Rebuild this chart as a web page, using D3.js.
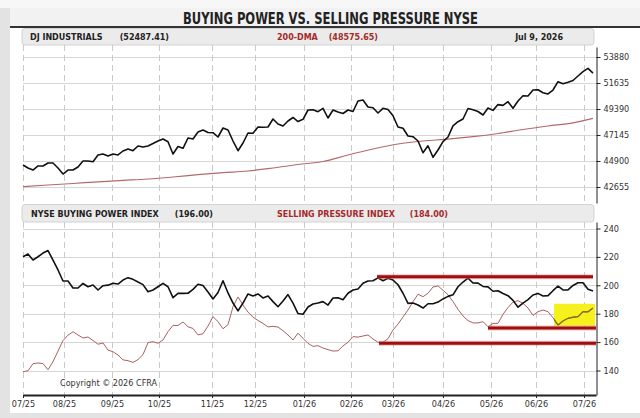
<!DOCTYPE html>
<html><head><meta charset="utf-8">
<script src="https://cdn.jsdelivr.net/npm/d3@7"></script>
<style>
html,body{margin:0;padding:0;background:#f4f4f4;}
svg{display:block;}
</style></head>
<body><svg id="c" width="640" height="418"></svg>
<script>
// ---------- DATA ----------
const chartTitle = "BUYING POWER VS. SELLING PRESSURE NYSE";
const monthLabels = ["07/25","08/25","09/25","10/25","11/25","12/25","01/26","02/26","03/26","04/26","05/26","06/26","07/26"];
// month starts, in sample (session) index units
const monthPos = [0, 8.2, 17.8, 27.2, 37.8, 46.4, 56.2, 65.6, 74, 84, 93.6, 102.6, 112.2];
const djTicks = [42655, 44900, 47145, 49390, 51635, 53880];
const indexTicks = [140, 160, 180, 200, 220, 240];

const djValues = [44554,44295,44122,44468,44468,44727,44727,44295,43777,44122,
 44122,44381,44900,44900,44839,45418,45504,45331,45504,45418,
 45763,45936,45789,46195,46108,46195,46411,46627,46799,46566,
 45504,46152,45996,46886,46799,47404,47576,47361,47343,46972,
 47749,47576,46627,45789,46454,47317,47291,47835,47810,47835,
 48526,48095,47922,48354,48656,48310,48500,49303,49330,49157,
 49450,48613,49303,49131,49001,49303,49174,50081,50167,49562,
 49502,49044,49450,49347,48811,47835,47723,47058,46998,46627,
 45616,46212,45219,45849,46566,46972,47939,48293,48526,49433,
 49321,49174,48872,49476,49269,49770,49701,50020,49450,50081,
 50538,50512,51030,51048,50797,50685,51030,51747,51574,51695,
 51851,52239,52619,52896,52487.41];
// 200-day moving average, one value every 5 samples (last one = final sample)
const dmaValues = [42680,42827,42957,43104,43224,43345,43518,43717,43889,44036,44295,44597,
 44856,45418,45936,46367,46627,46782,46998,47274,47620,47922,48198,48575.65];

const buyingPower = [220.1,222.0,217.8,220.1,222.7,224.5,217.8,210.8,203.0,203.0,
 198.1,198.1,201.3,199.0,200.2,196.7,199.7,200.1,201.4,200.9,
 203.7,205.4,204.2,202.3,200.5,195.5,196.7,199.0,201.4,199.0,
 191.3,194.3,194.3,194.4,197.1,200.7,199.8,195.3,190.4,194.9,
 203.2,194.6,187.5,182.0,187.5,193.9,192.5,193.9,191.1,192.5,
 188.5,184.9,188.9,193.5,187.5,180.1,179.6,184.7,186.8,187.5,
 188.5,186.1,191.1,191.2,189.9,194.4,196.7,197.4,201.4,203.0,
 203.2,205.2,203.2,204.9,203.7,200.4,194.4,187.3,187.5,186.1,
 184.0,187.0,187.0,188.2,190.4,192.2,193.3,199.0,202.3,205.1,
 201.6,201.5,199.2,198.9,195.8,196.2,194.2,192.7,189.4,184.6,
 187.5,189.9,193.2,194.3,192.5,192.7,196.2,199.5,196.7,196.8,
 199.9,201.8,201.8,197.2,196.0];

const sellingPressure = [139.2,139.8,144.8,145.3,144.9,140.5,146.2,153.7,161.1,164.9,
 167.3,165.0,162.9,163.6,161.1,158.5,159.4,154.4,153.2,150.9,
 147.5,146.9,145.7,147.7,151.2,159.6,160.3,159.2,161.5,167.4,
 171.8,171.7,174.2,170.8,169.6,165.1,165.9,171.3,177.9,174.4,
 169.4,172.3,184.9,191.8,186.1,181.1,177.6,175.2,173.2,170.7,
 171.1,170.6,168.0,165.0,161.5,166.3,162.7,159.1,157.0,157.5,
 155.8,154.7,153.7,153.9,157.3,159.9,163.9,163.5,164.3,165.0,
 162.2,159.9,159.9,162.4,168.5,172.7,177.7,182.6,188.5,193.7,
 192.0,194.4,198.8,199.6,196.5,193.4,188.5,183.1,178.4,175.1,
 173.5,173.5,174.4,170.8,173.2,173.2,179.6,184.3,188.2,189.2,
 187.3,184.0,178.8,181.4,182.6,181.4,177.1,172.0,174.9,176.8,
 177.5,177.9,181.4,181.3,184.0];

// support / resistance levels (value, start and end in sample index)
const levelValues = [206, 170, 159.2];
const levelStarts = [70.8, 93, 71.2];
const levelEnds = [114, 114.6, 114.6];
// highlighted zone
const zoneRange = [106.2, 114.4];
const zoneValues = [171.5, 187];

// ---------- DRAW ----------
const W = 640, H = 418;
const svg = d3.select('#c');
const condensed = '"DejaVu Sans Condensed","DejaVu Sans",sans-serif';
const boldFont = '"DejaVu Sans","Verdana",sans-serif';

svg.append('rect').attr('width', W).attr('height', H).attr('fill', '#f7f7f7');
svg.append('rect').attr('x', 0).attr('y', 8).attr('width', 10).attr('height', H - 8).attr('fill', '#e3e3e3');
svg.append('rect').attr('x', 10).attr('y', 8).attr('width', W - 10).attr('height', 19).attr('fill', '#f2f2f2');
svg.append('rect').attr('x', 10).attr('y', 27).attr('width', W - 10).attr('height', 386).attr('fill', '#ffffff');
svg.append('rect').attr('x', 0).attr('y', 413).attr('width', W).attr('height', 5).attr('fill', '#e3e3e3');
svg.append('line').attr('x1', 10).attr('x2', W).attr('y1', 27).attr('y2', 27).attr('stroke', '#333').attr('stroke-width', 2);

svg.append('text').attr('x', 183).attr('y', 24)
  .attr('font-family', '"Liberation Sans Narrow","DejaVu Sans Condensed",sans-serif')
  .attr('font-weight', 'bold').attr('font-size', 15).attr('fill', '#222')
  .attr('textLength', 295).attr('lengthAdjust', 'spacingAndGlyphs').text(chartTitle);

const x = d3.scaleLinear().domain([0, 114.6]).range([23, 596]);
const yTop = d3.scaleLinear().domain([41273, 54743]).range([203, 47]);
const yBot = d3.scaleLinear().domain([122.75, 244.58]).range([395, 222]);

// gridlines
function grid(yScale, ticks, y0, y1) {
  const g = svg.append('g');
  g.selectAll('line.h').data(ticks).enter().append('line')
    .attr('x1', x(0)).attr('x2', x(114.6))
    .attr('y1', d => Math.round(yScale(d)) + 0.5).attr('y2', d => Math.round(yScale(d)) + 0.5)
    .attr('stroke', '#d6d6d6').attr('stroke-width', 1);
  g.selectAll('line.v').data(monthPos).enter().append('line')
    .attr('x1', d => Math.round(x(d)) + 0.5).attr('x2', d => Math.round(x(d)) + 0.5)
    .attr('y1', y0).attr('y2', y1)
    .attr('stroke', '#c9c9c9').attr('stroke-width', 1).attr('stroke-dasharray', '6,4');
}
grid(yTop, djTicks, 45, 203);
grid(yBot, indexTicks, 222, 395);

// header boxes
function header(y, h) {
  svg.append('rect').attr('x', 22).attr('y', y).attr('width', 572).attr('height', h).attr('rx', 3)
    .attr('fill', '#ebebeb').attr('stroke', '#d3d3d3');
}
header(28.5, 16.5);
header(204.5, 17.5);
function htext(xp, y, txt, col, anchor) {
  svg.append('text').attr('x', xp).attr('y', y).attr('text-anchor', anchor || 'start')
    .attr('font-family', boldFont).attr('font-weight', 'bold').attr('font-size', 8)
    .attr('fill', col).text(txt);
}
htext(30, 40, 'DJ INDUSTRIALS', '#222');
htext(169, 40, '(' + d3.format('.2f')(djValues[djValues.length - 1]) + ')', '#222', 'end');
htext(277, 40, '200-DMA', '#a52a2a');
htext(378, 40, '(' + d3.format('.2f')(dmaValues[dmaValues.length - 1]) + ')', '#a52a2a', 'end');
htext(563, 40, 'Jul 9, 2026', '#222', 'end');
htext(31, 216.5, 'NYSE BUYING POWER INDEX', '#222');
htext(213, 216.5, '(' + d3.format('.2f')(buyingPower[buyingPower.length - 1]) + ')', '#222', 'end');
htext(277, 216.5, 'SELLING PRESSURE INDEX', '#a52a2a');
htext(448, 216.5, '(' + d3.format('.2f')(sellingPressure[sellingPressure.length - 1]) + ')', '#a52a2a', 'end');

// axes
function styleAxis(g) {
  g.selectAll('text').attr('font-family', condensed).attr('font-size', 9).attr('fill', '#333');
  g.selectAll('line').attr('stroke', '#222');
  g.select('.domain').attr('stroke', '#222');
}
const axTop = svg.append('g').attr('transform', 'translate(596.5,0)')
  .call(d3.axisRight(yTop).tickValues(djTicks).tickFormat(d3.format('d')).tickSize(4).tickSizeOuter(0).tickPadding(3));
styleAxis(axTop);
const axBot = svg.append('g').attr('transform', 'translate(596.5,0)')
  .call(d3.axisRight(yBot).tickValues(indexTicks).tickFormat(d3.format('d')).tickSize(4).tickSizeOuter(0).tickPadding(3));
styleAxis(axBot);
const axX = svg.append('g').attr('transform', 'translate(0,395)')
  .call(d3.axisBottom(x).tickValues(monthPos).tickFormat((d, i) => monthLabels[i]).tickSize(3).tickSizeOuter(0).tickPadding(3));
styleAxis(axX);
axX.select('.domain').attr('stroke-width', 2);

// top lines
const lineTop = d3.line().x((d, i) => x(i)).y(d => yTop(d));
const dmaPts = dmaValues.map((v, k) => [Math.min(k * 5, djValues.length - 1), v]);
svg.append('path').datum(dmaPts)
  .attr('d', d3.line().x(d => x(d[0])).y(d => yTop(d[1])).curve(d3.curveMonotoneX))
  .attr('fill', 'none').attr('stroke', '#b46a6a').attr('stroke-width', 1.2);
svg.append('path').datum(djValues).attr('d', lineTop)
  .attr('fill', 'none').attr('stroke', '#111').attr('stroke-width', 1.6).attr('stroke-linejoin', 'round');

// bottom lines
const lineBot = d3.line().x((d, i) => x(i)).y(d => yBot(d));
svg.append('rect').attr('x', x(zoneRange[0])).attr('width', x(zoneRange[1]) - x(zoneRange[0]))
  .attr('y', yBot(zoneValues[1])).attr('height', yBot(zoneValues[0]) - yBot(zoneValues[1]))
  .attr('fill', '#f6f01c');
svg.append('clipPath').attr('id', 'zoneClip').append('rect')
  .attr('x', x(zoneRange[0])).attr('width', x(zoneRange[1]) - x(zoneRange[0]))
  .attr('y', yBot(zoneValues[1])).attr('height', yBot(zoneValues[0]) - yBot(zoneValues[1]));
svg.append('path').datum(sellingPressure).attr('d', lineBot)
  .attr('fill', 'none').attr('stroke', '#ac6060').attr('stroke-width', 1).attr('stroke-linejoin', 'round');
svg.append('path').datum(sellingPressure).attr('d', lineBot).attr('clip-path', 'url(#zoneClip)')
  .attr('fill', 'none').attr('stroke', '#7d6d12').attr('stroke-width', 1.3);
svg.append('path').datum(buyingPower).attr('d', lineBot)
  .attr('fill', 'none').attr('stroke', '#111').attr('stroke-width', 1.6).attr('stroke-linejoin', 'round');

// support / resistance levels
levelValues.forEach((v, k) => {
  svg.append('line').attr('x1', x(levelStarts[k])).attr('x2', x(levelEnds[k]))
    .attr('y1', yBot(v)).attr('y2', yBot(v)).attr('stroke', '#e07070').attr('stroke-opacity', 0.45).attr('stroke-width', 5);
  svg.append('line').attr('x1', x(levelStarts[k])).attr('x2', x(levelEnds[k]))
    .attr('y1', yBot(v)).attr('y2', yBot(v)).attr('stroke', '#a00f0f').attr('stroke-width', 3);
});

svg.append('text').attr('x', 60).attr('y', 386).attr('font-family', condensed).attr('font-size', 9)
  .attr('fill', '#333').text('Copyright © 2026 CFRA');
</script>
</body></html>
